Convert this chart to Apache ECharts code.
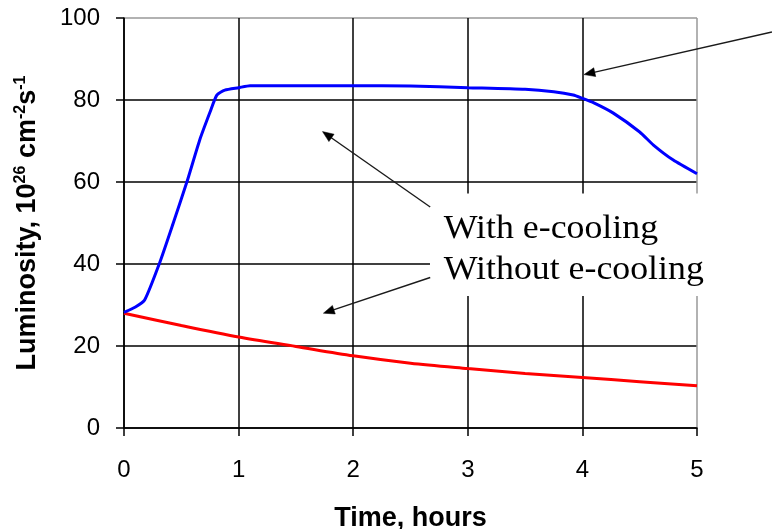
<!DOCTYPE html>
<html>
<head>
<meta charset="utf-8">
<script src="https://cdn.jsdelivr.net/npm/echarts@6/dist/echarts.min.js"></script>
<style>
  html, body { margin: 0; padding: 0; background: #ffffff; }
  #chart { width: 772px; height: 529px; }
</style>
</head>
<body>
<div id="chart"></div>
<script>
// Luminosity vs time, with and without electron cooling
const coolTime = [0, 0.1, 0.18, 0.31, 0.43, 0.55, 0.66, 0.75, 0.81, 0.88, 1.0, 1.1, 1.5, 2.0, 2.5, 3.0, 3.5, 3.75, 3.92, 4.0, 4.1, 4.27, 4.5, 4.62, 4.79, 5.0];
const coolLum  = [28.2, 29.5, 31.2, 40.2, 50.0, 60.1, 70.2, 77.0, 81.2, 82.4, 83.0, 83.5, 83.5, 83.5, 83.4, 83.0, 82.6, 82.0, 81.2, 80.4, 79.3, 76.8, 72.2, 69.0, 65.4, 62.0];

const noCoolTime = [0, 0.5, 1.0, 1.5, 2.0, 2.5, 3.0, 3.5, 4.0, 4.5, 5.0];
const noCoolLum  = [28.0, 25.0, 22.2, 19.9, 17.6, 15.8, 14.5, 13.3, 12.3, 11.3, 10.3];

const xTicks = [0, 1, 2, 3, 4, 5];
const yTicks = [0, 20, 40, 60, 80, 100];

const legendLines = ['With e-cooling', 'Without e-cooling'];

// Annotation arrows in data units: [tailX, tailY, tipX, tipY]
const arrows = [
  [2.672, 53.9, 1.732, 72.3],
  [2.672, 36.7, 1.740, 28.0],
  [5.654, 96.6, 4.014, 86.2]
];
// Label box in data units: [left, top, right, bottom]
const labelBox = [2.67, 57.2, 5.11, 32.2];
// Label anchors in data units (left edge, bottom of text box)
const labelAnchors = [[2.79, 44.4], [2.79, 34.4]];

const pairs = (xs, ys) => xs.map((x, i) => [x, ys[i]]);

const chart = echarts.init(document.getElementById('chart'), null, { renderer: 'canvas' });

const gridColors = ['#000000', '#000000', '#000000', '#000000', '#000000', '#999999'];

chart.setOption({
  animation: false,
  backgroundColor: '#ffffff',
  grid: { left: 124, right: 75, top: 18, bottom: 101, containLabel: false, outerBoundsMode: 'none' },
  xAxis: {
    type: 'value',
    min: xTicks[0], max: xTicks[xTicks.length - 1], interval: 1,
    name: 'Time, hours',
    nameLocation: 'middle',
    nameGap: 77,
    nameTextStyle: { fontFamily: 'Liberation Sans', fontWeight: 'bold', fontSize: 27, color: '#000' },
    axisLine: { show: true, lineStyle: { color: '#000', width: 1.5 } },
    axisTick: { show: true, length: 8, lineStyle: { color: '#000', width: 1.5 } },
    axisLabel: { margin: 30, fontFamily: 'Liberation Sans', fontSize: 24, color: '#000' },
    splitLine: { show: true, lineStyle: { color: gridColors, width: 1.5 } }
  },
  yAxis: {
    type: 'value',
    min: yTicks[0], max: yTicks[yTicks.length - 1], interval: 20,
    name: 'Luminosity, 10{sup|26} cm{sup|-2}s{sup|-1}',
    nameLocation: 'middle',
    nameGap: 82,
    nameRotate: 90,
    nameTextStyle: {
      fontFamily: 'Liberation Sans', fontWeight: 'bold', fontSize: 27, color: '#000', lineHeight: 29,
      rich: {
        sup: { fontFamily: 'Liberation Sans', fontWeight: 'bold', fontSize: 16, color: '#000', verticalAlign: 'top', lineHeight: 16 }
      }
    },
    axisLine: { show: true, lineStyle: { color: '#000', width: 1.5 } },
    axisTick: { show: true, length: 8, lineStyle: { color: '#000', width: 1.5 } },
    axisLabel: { margin: 24, fontFamily: 'Liberation Sans', fontSize: 24, color: '#000' },
    splitLine: { show: true, lineStyle: { color: gridColors, width: 1.5 } }
  },
  series: [
    {
      name: legendLines[1],
      type: 'line',
      data: pairs(noCoolTime, noCoolLum),
      smooth: 0.3,
      showSymbol: false,
      lineStyle: { color: '#ff0000', width: 3 },
      z: 3
    },
    {
      name: legendLines[0],
      type: 'line',
      data: pairs(coolTime, coolLum),
      smooth: 0.2,
      showSymbol: false,
      lineStyle: { color: '#0000ff', width: 3 },
      z: 4
    }
  ]
});

// Annotation layer: white label box, two text lines and three arrows
const px = (p) => chart.convertToPixel({ gridIndex: 0 }, p);

function arrowShapes(a) {
  const tail = px([a[0], a[1]]);
  const tip = px([a[2], a[3]]);
  const dx = tip[0] - tail[0], dy = tip[1] - tail[1];
  const len = Math.sqrt(dx * dx + dy * dy);
  const ux = dx / len, uy = dy / len;
  const headLen = 11, headHalf = 4.5;
  const bx = tip[0] - ux * headLen, by = tip[1] - uy * headLen;
  return [
    {
      type: 'line', z: 60,
      shape: { x1: tail[0], y1: tail[1], x2: bx + ux * 2, y2: by + uy * 2 },
      style: { stroke: '#1a1a1a', lineWidth: 1.4 }
    },
    {
      type: 'polygon', z: 60,
      shape: { points: [tip, [bx - uy * headHalf, by + ux * headHalf], [bx + uy * headHalf, by - ux * headHalf]] },
      style: { fill: '#000', stroke: '#000', lineWidth: 0.5 }
    }
  ];
}

const boxTL = px([labelBox[0], labelBox[1]]);
const boxBR = px([labelBox[2], labelBox[3]]);

const elements = [
  {
    type: 'rect', z: 50,
    shape: { x: boxTL[0], y: boxTL[1], width: boxBR[0] - boxTL[0], height: boxBR[1] - boxTL[1] },
    style: { fill: '#ffffff' }
  }
];
labelAnchors.forEach((a, i) => {
  const p = px(a);
  elements.push({
    type: 'text', z: 55,
    x: p[0], y: p[1], scaleX: 1.085,
    style: {
      text: legendLines[i],
      font: '33px "Liberation Serif"',
      fill: '#000',
      textAlign: 'left',
      textVerticalAlign: 'bottom'
    }
  });
});
arrows.forEach(a => arrowShapes(a).forEach(e => elements.push(e)));

chart.setOption({ graphic: { elements: elements } });
</script>
</body>
</html>
